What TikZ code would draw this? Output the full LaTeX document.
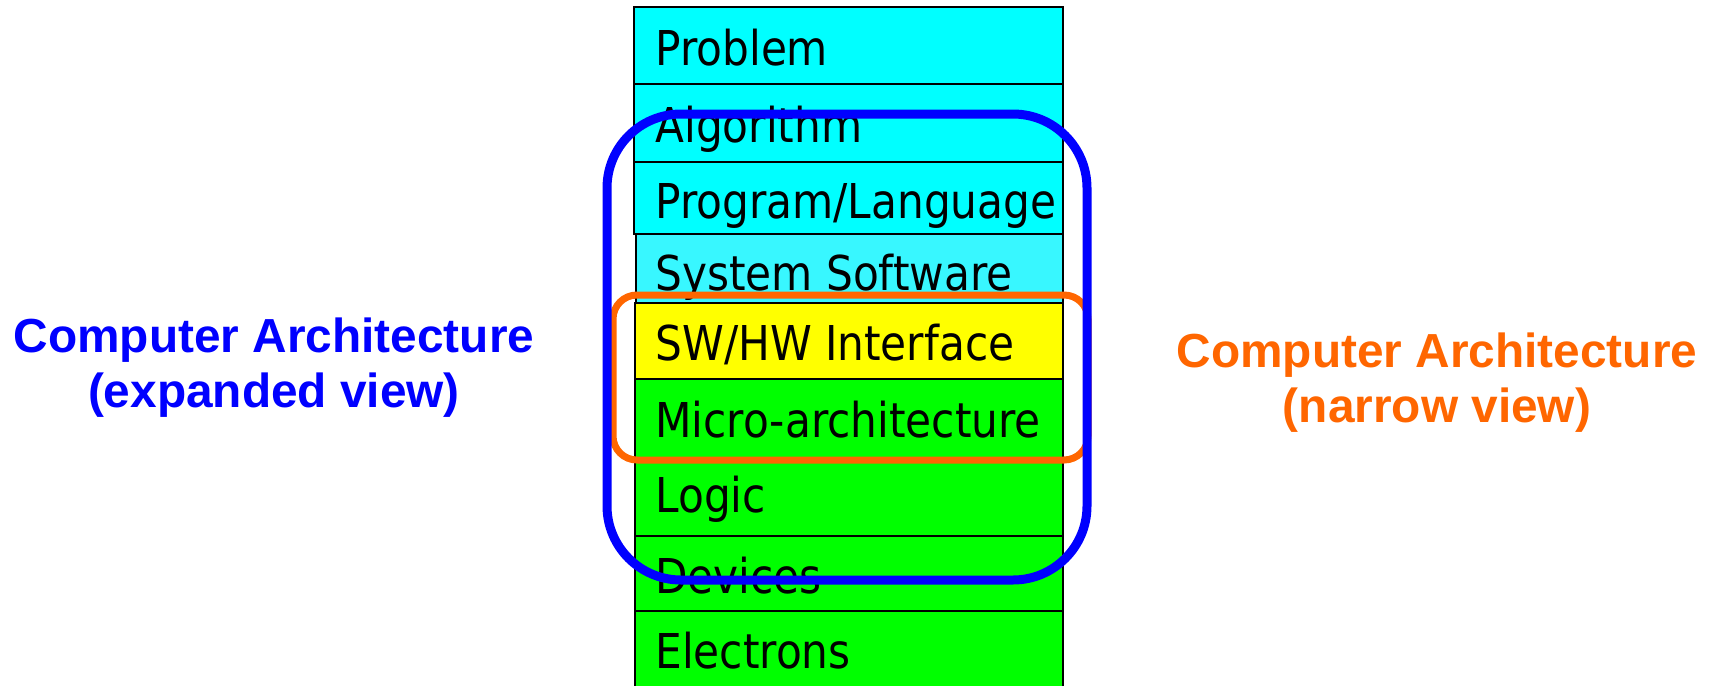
\documentclass[tikz,border=0pt]{standalone}
\usepackage{fontspec}
\setmainfont{DejaVu Sans}[FakeStretch=0.88]
\newfontfamily\viewfont{Liberation Sans}
\definecolor{layercyan}{HTML}{00FFFF}
\definecolor{layersys}{HTML}{38F7FF}
\definecolor{layeryellow}{HTML}{FFFF00}
\definecolor{layergreen}{HTML}{00FF00}
\definecolor{viewblue}{HTML}{0000FF}
\definecolor{vieworange}{HTML}{FF6600}
\tikzset{
  layer/.style={draw=black, line width=0.9pt},
  layertext/.style={anchor=base west, inner sep=0pt, font=\fontsize{24}{28}\selectfont},
  viewtext/.style={align=center, inner sep=0pt, font=\viewfont\bfseries\fontsize{23.9}{27.5}\selectfont}
}
\begin{document}
\begin{tikzpicture}[x=0.5pt, y=-0.5pt]
\useasboundingbox (0,0) rectangle (1712,685);

\draw  [layer, fill=layercyan](634,7) rectangle (1063,84);
\draw  [layer, fill=layercyan](634,84) rectangle (1063,162);
\draw  [layer, fill=layercyan](634,162) rectangle (1063,234);
\draw  [layer, fill=layersys](636,234) rectangle (1063,303);
\draw  [layer, fill=layeryellow](635,303) rectangle (1063,379);
\draw  [layer, fill=layergreen](635,379) rectangle (1063,459);
\draw  [layer, fill=layergreen](635,459) rectangle (1063,536);
\draw  [layer, fill=layergreen](635,536) rectangle (1063,611);
\draw  [layer, fill=layergreen](635,611) rectangle (1063,700);
\node [layertext] (prob) at (655,65) {Problem};
\node [layertext] (algo) at (655,142) {Algorithm};
\node [layertext] (prog) at (655,218) {Program/Language};
\node [layertext] (syssw) at (655,290) {System Software};
\node [layertext] (iface) at (655,360) {SW/HW Interface};
\node [layertext] (uarch) at (655,437) {Micro-architecture};
\node [layertext] (logic) at (655,512) {Logic};
\node [layertext] (dev) at (655,593) {Devices};
\node [layertext] (elec) at (655,668) {Electrons};

\draw  [vieworange, line width=3.5pt, rounded corners=12pt](613,295) rectangle (1088,460);
\draw  [viewblue, line width=4.5pt, rounded corners=37pt](607,114) rectangle (1087,580);

\node [viewtext, viewblue] (expview) at (274,368) {Computer Architecture\\(expanded view)};
\node [viewtext, vieworange] (narview) at (1437,383) {Computer Architecture\\(narrow view)};
\end{tikzpicture}
\end{document}
